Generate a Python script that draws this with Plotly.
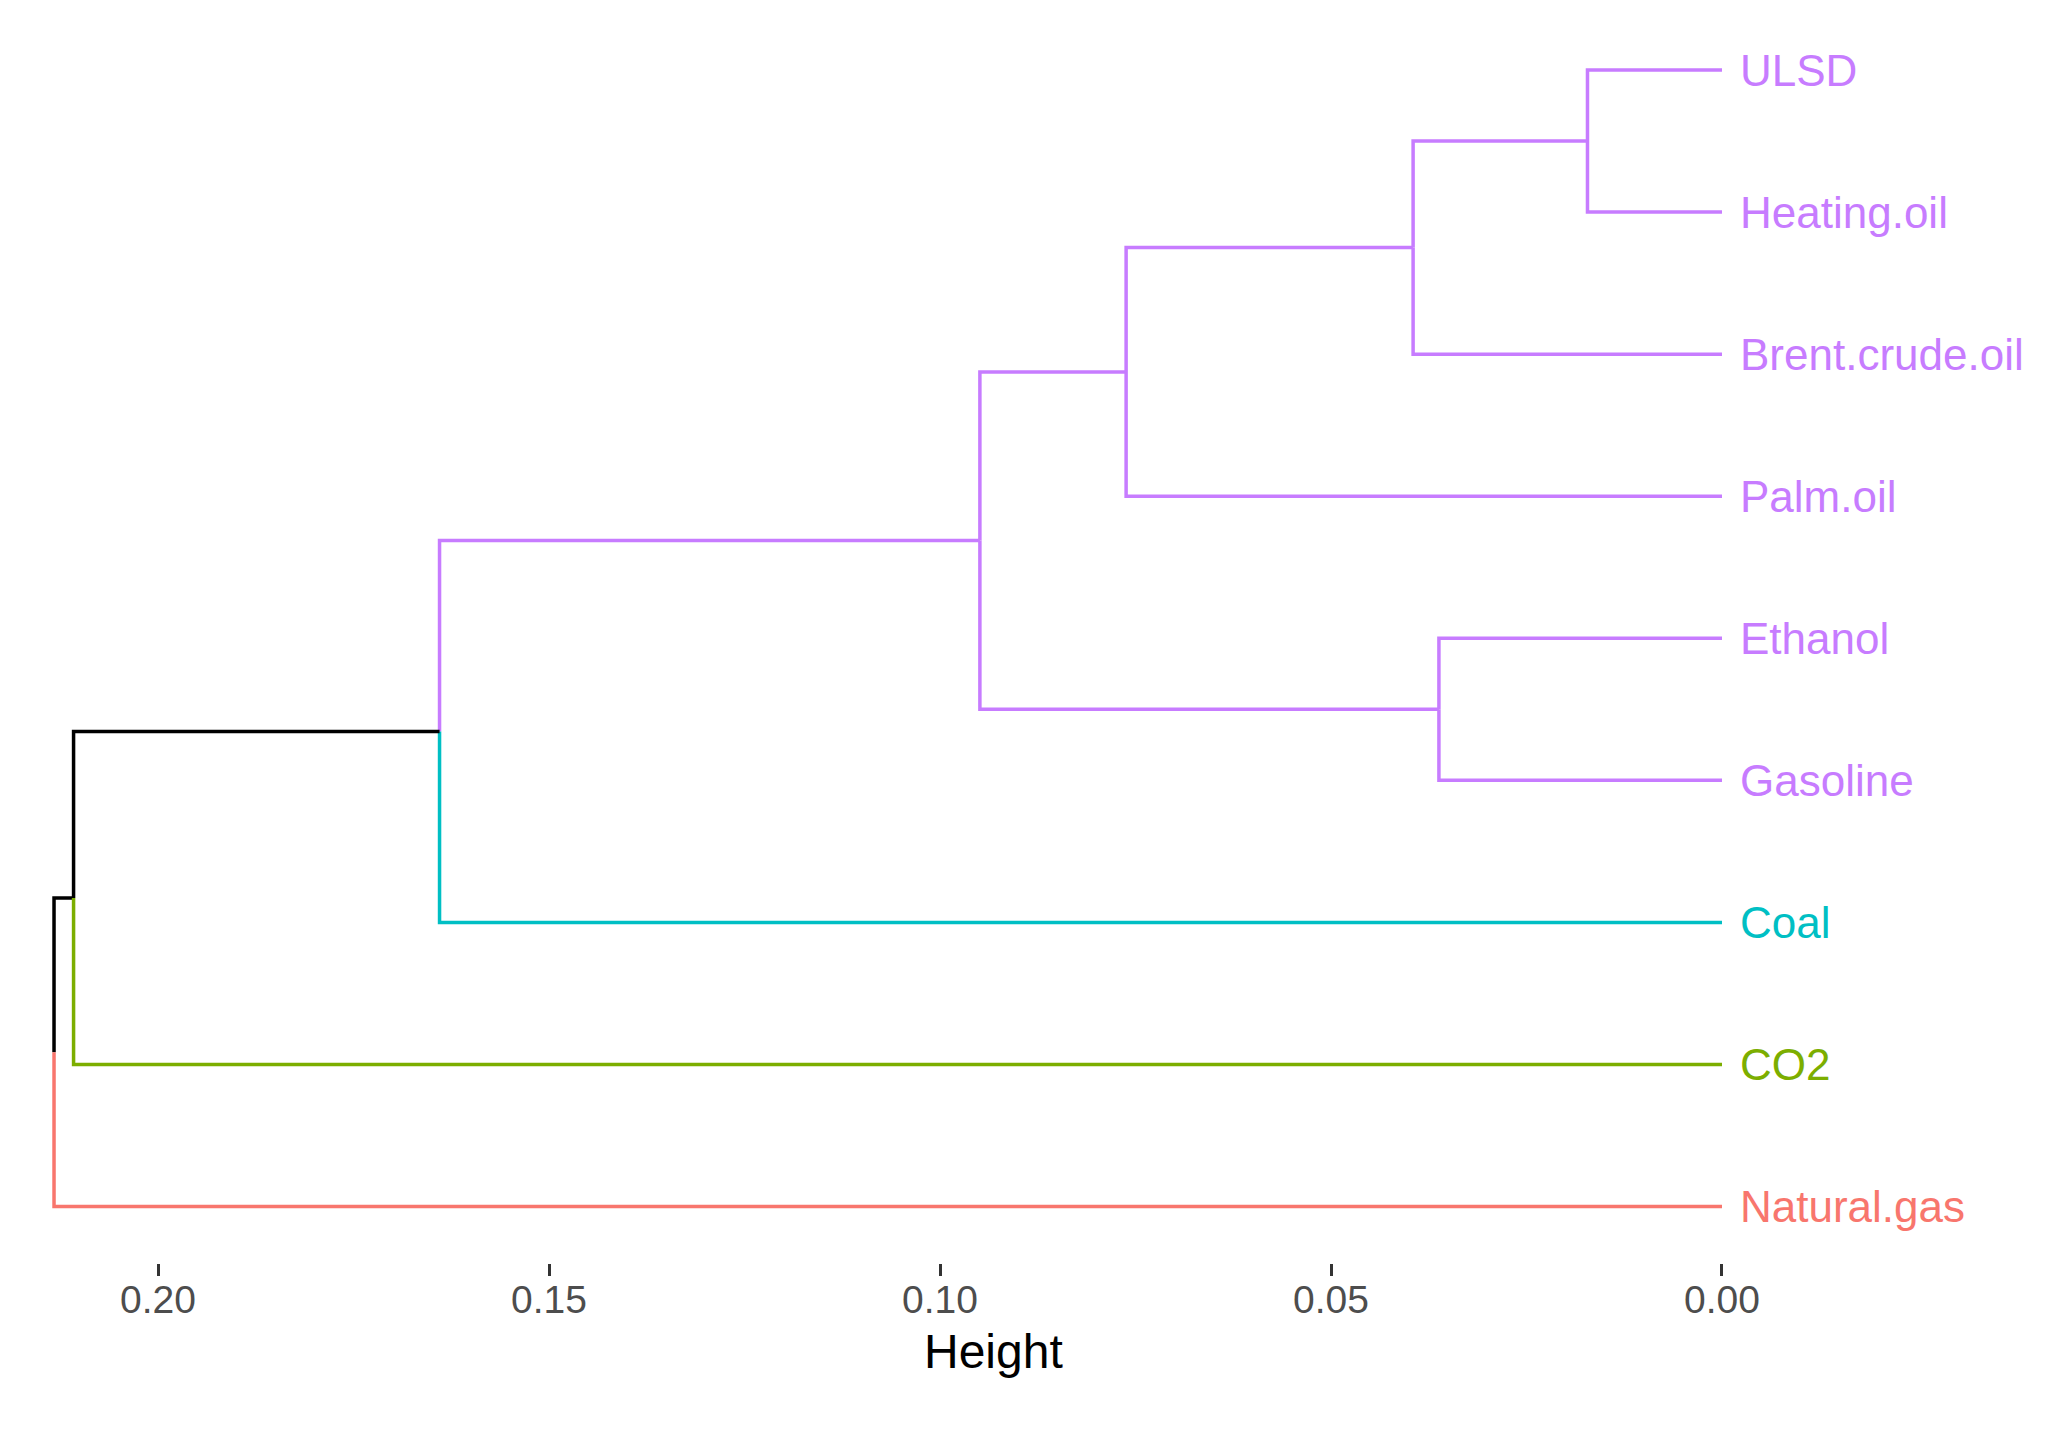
import plotly.graph_objects as go

# ---- data ----
leaf_labels = ["ULSD", "Heating.oil", "Brent.crude.oil", "Palm.oil", "Ethanol",
               "Gasoline", "Coal", "CO2", "Natural.gas"]          # top -> bottom
leaf_cluster = [4, 4, 4, 4, 4, 4, 3, 2, 1]
cluster_colors = {1: "#F8766D", 2: "#7CAE00", 3: "#00BFC4", 4: "#C77CFF"}
# hclust-style merges: negative = leaf index (1-based, in leaf_labels), positive = merge step
merge_left = [-1, -5, 1, 3, 4, 5, 6, 7]
merge_right = [-2, -6, -3, -4, 2, -7, -8, -9]
merge_height = [0.0172, 0.0362, 0.0395, 0.0762, 0.0949, 0.1640, 0.2108, 0.2133]
tick_vals = [0.20, 0.15, 0.10, 0.05, 0.00]
tick_text = ["0.20", "0.15", "0.10", "0.05", "0.00"]
x_title = "Height"

n = len(leaf_labels)
leaf_y = {i + 1: n - i for i in range(n)}  # ULSD at top

node_y, node_h, node_leaves = {}, {}, {}


def info(ref):
    if ref < 0:
        return leaf_y[-ref], 0.0, [-ref]
    return node_y[ref], node_h[ref], node_leaves[ref]


for k, (a, b, h) in enumerate(zip(merge_left, merge_right, merge_height), start=1):
    ya, _, la = info(a)
    yb, _, lb = info(b)
    node_y[k] = (ya + yb) / 2
    node_h[k] = h
    node_leaves[k] = la + lb


def color_of(leaves):
    cl = {leaf_cluster[i - 1] for i in leaves}
    return cluster_colors[cl.pop()] if len(cl) == 1 else "#000000"


segs = {}
for k, (a, b, h) in enumerate(zip(merge_left, merge_right, merge_height), start=1):
    ymid = node_y[k]
    for c in (a, b):
        yc, hc, lc = info(c)
        col = color_of(lc)
        xs, ys = segs.setdefault(col, ([], []))
        xs += [h, h, hc, None]
        ys += [ymid, yc, yc, None]

fig = go.Figure()
for col, (xs, ys) in segs.items():
    fig.add_trace(go.Scatter(x=xs, y=ys, mode="lines",
                             line=dict(color=col, width=3.5),
                             hoverinfo="skip", showlegend=False))

for i, lab in enumerate(leaf_labels, start=1):
    fig.add_annotation(x=0, y=leaf_y[i], text=lab, showarrow=False,
                       xanchor="left", yanchor="middle", xshift=16,
                       font=dict(family="Liberation Sans, Arial", size=44,
                                 color=cluster_colors[leaf_cluster[i - 1]]))

fig.add_annotation(text=x_title, xref="paper", yref="paper", x=0.481, y=-0.0708,
                   xanchor="center", yanchor="middle", showarrow=False,
                   font=dict(family="Liberation Sans, Arial", size=48, color="black"))

W, H = 2063, 1433
fig.update_layout(
    width=W, height=H,
    margin=dict(l=12, r=28, t=12, b=178),
    plot_bgcolor="white", paper_bgcolor="white",
    font=dict(family="Liberation Sans, Arial"),
)
fig.update_xaxes(
    range=[0.21765, -0.04105],
    tickvals=tick_vals, ticktext=tick_text,
    ticks="outside", ticklen=12, tickwidth=3, tickcolor="#333333",
    tickfont=dict(size=39, color="#4D4D4D"),
    ticklabelstandoff=-10,
    showgrid=False, zeroline=False, showline=False,
)
fig.update_yaxes(range=[0.6023, 9.352], visible=False, showgrid=False, zeroline=False)

fig.write_html("out.html")
